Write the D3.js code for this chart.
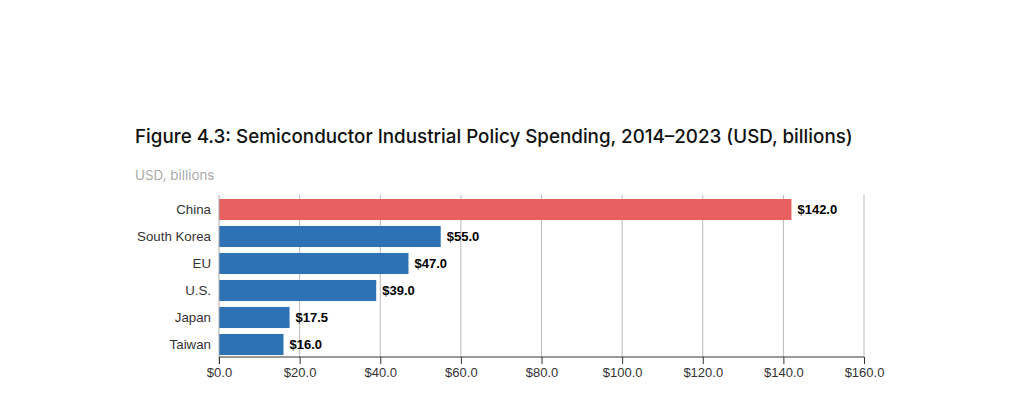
<!DOCTYPE html>
<html><head><meta charset="utf-8">
<script src="https://cdn.jsdelivr.net/npm/d3@7"></script>
<style>
body{margin:0;background:#fff;}
svg text{font-family:"Liberation Sans",Arial,sans-serif;}
</style></head>
<body><svg id="c" width="1020" height="394"></svg>
<script>
const categories = ["China","South Korea","EU","U.S.","Japan","Taiwan"];
const values = [142.0,55.0,47.0,39.0,17.5,16.0];
const highlight = ["China"];
const tickValues = [0,20,40,60,80,100,120,140,160];
const title = "Figure 4.3: Semiconductor Industrial Policy Spending, 2014–2023 (USD, billions)";
const subtitle = "USD, billions";

const svg = d3.select("#c");
const x = d3.scaleLinear().domain([0,160]).range([219, 864]);
const y = d3.scaleBand().domain(categories).range([196,358]).paddingInner(0.22).paddingOuter(0.11);

svg.append("text").attr("x",135).attr("y",143)
  .style("font-family","Inter, 'Noto Sans', sans-serif").style("font-weight",500)
  .style("font-size","18.8px").attr("fill","#111").text(title);
svg.append("text").attr("x",135).attr("y",180)
  .style("font-family","Inter, 'Noto Sans', sans-serif")
  .style("font-size","13.4px").attr("fill","#aaa").text(subtitle);

// grid
svg.append("g").selectAll("line").data(tickValues.slice(1)).join("line")
  .attr("x1",d=>x(d)).attr("x2",d=>x(d)).attr("y1",195).attr("y2",357)
  .attr("stroke","#bbb").attr("stroke-width",1);

// bars
svg.append("g").selectAll("rect").data(categories).join("rect")
  .attr("x",x(0)).attr("y",d=>y(d)).attr("height",y.bandwidth())
  .attr("width",(d,i)=>x(values[i])-x(0))
  .attr("fill",d=>highlight.includes(d)?"#e8605f":"#2e72b6");

// value labels
svg.append("g").selectAll("text").data(categories).join("text")
  .attr("x",(d,i)=>x(values[i])+6).attr("y",d=>y(d)+y.bandwidth()/2)
  .attr("dy","0.35em").style("font-size","13px").style("font-weight","bold")
  .attr("fill","#000").text((d,i)=>"$"+values[i].toFixed(1));

// y axis
const ya = svg.append("g").attr("transform",`translate(${x(0)},0)`)
  .call(d3.axisLeft(y).tickSize(0).tickPadding(8));
ya.select(".domain").attr("stroke","#aaa").attr("d","M0,195V364");
ya.selectAll("text").style("font-size","13.3px").attr("fill","#333");

// x axis
const xa = svg.append("g").attr("transform","translate(0,357)")
  .call(d3.axisBottom(x).tickValues(tickValues).tickSize(7).tickPadding(4).tickFormat(d=>"$"+d.toFixed(1)));
xa.select(".domain").attr("stroke","#333").attr("d",`M${x(0)},0H${x(160)}`);
xa.selectAll(".tick line").attr("stroke","#333");
xa.selectAll("text").style("font-size","13px").attr("fill","#333");
</script></body></html>
